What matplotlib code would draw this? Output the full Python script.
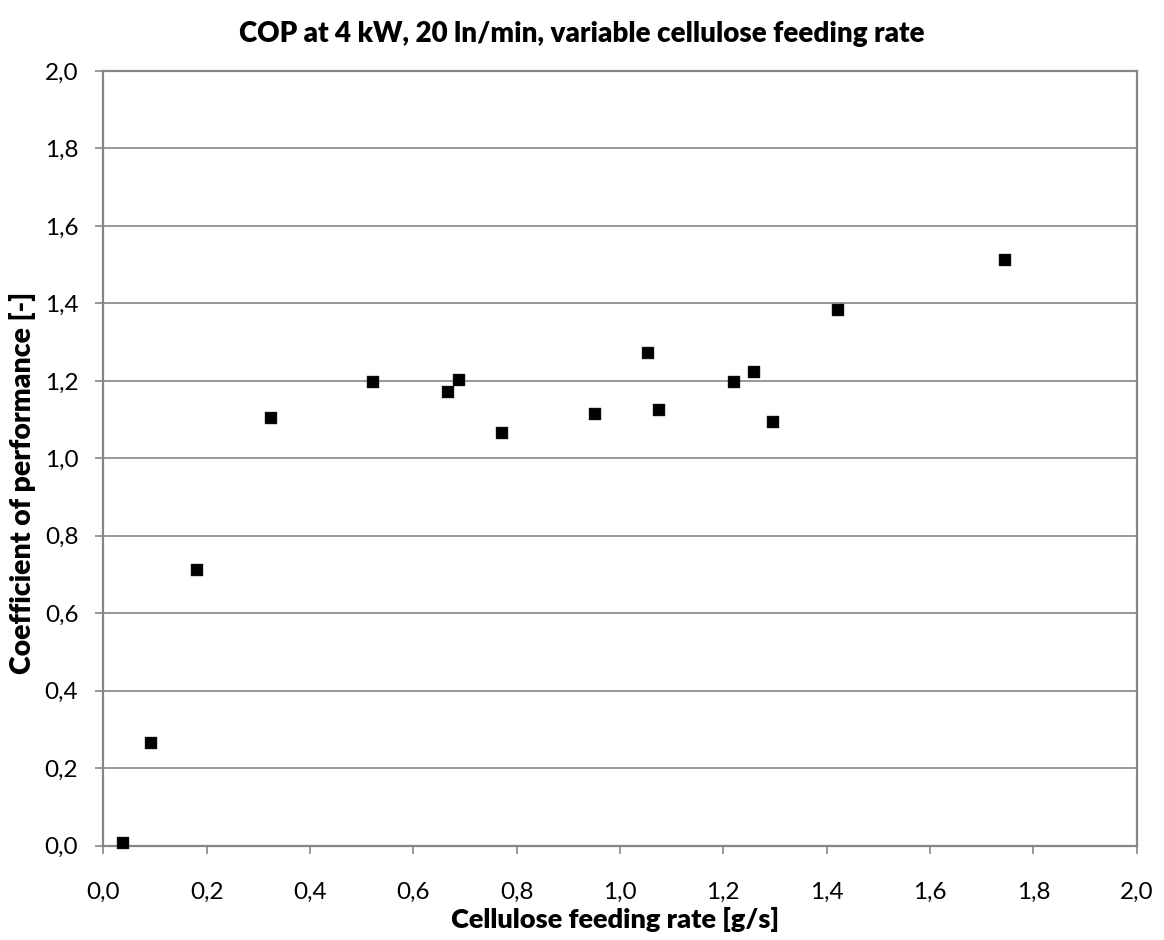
import matplotlib
matplotlib.use("Agg")
import matplotlib.pyplot as plt
from matplotlib.ticker import FuncFormatter, MultipleLocator

# Data
feed_rate = [0.038, 0.092, 0.182, 0.324, 0.521, 0.668, 0.689, 0.772,
             0.952, 1.054, 1.075, 1.221, 1.259, 1.297, 1.421, 1.746]
cop = [0.007, 0.266, 0.711, 1.104, 1.197, 1.171, 1.202, 1.065,
       1.115, 1.273, 1.125, 1.198, 1.222, 1.094, 1.383, 1.511]

title = "COP at 4 kW, 20 ln/min, variable cellulose feeding rate"
xlabel = "Cellulose feeding rate [g/s]"
ylabel = "Coefficient of performance [-]"

plt.rcParams['font.family'] = ['Lato', 'DejaVu Sans']

W, H = 1164, 940
fig = plt.figure(figsize=(W / 100, H / 100), dpi=100)
L, R, B, T = 103.3, 1136.7, 845.7, 71.0
ax = fig.add_axes([L / W, 1 - B / H, (R - L) / W, (B - T) / H])

gray = '#868686'
ax.scatter(feed_rate, cop, marker='s', s=8.6 ** 2, color='black',
           edgecolors='#333333', linewidths=0.3, zorder=3, clip_on=False)

ax.set_xlim(0, 2.0)
ax.set_ylim(0, 2.0)
ax.xaxis.set_major_locator(MultipleLocator(0.2))
ax.yaxis.set_major_locator(MultipleLocator(0.2))
fmt = FuncFormatter(lambda v, p: f"{v:.1f}".replace('.', ','))
ax.xaxis.set_major_formatter(fmt)
ax.yaxis.set_major_formatter(fmt)

ax.grid(axis='y', color=gray, linewidth=1.2)
ax.set_axisbelow(True)
for s in ax.spines.values():
    s.set_color(gray)
    s.set_linewidth(1.6)
ax.tick_params(axis='both', direction='out', length=6, width=1.2,
               color=gray, labelsize=17.5, labelcolor='black')
ax.tick_params(axis='y', pad=12)
ax.tick_params(axis='x', pad=20)

fig.text(582 / W, 1 - 42 / H, title, ha='center', va='baseline',
         fontsize=20, fontweight='heavy')
fig.text(615 / W, 1 - 928 / H, xlabel, ha='center', va='baseline',
         fontsize=19.5, fontweight='heavy')
fig.text(23 / W, 1 - 483 / H, ylabel, ha='center', va='center',
         rotation=90, fontsize=20.4, fontweight='heavy')

fig.savefig("out.png", dpi=100)
